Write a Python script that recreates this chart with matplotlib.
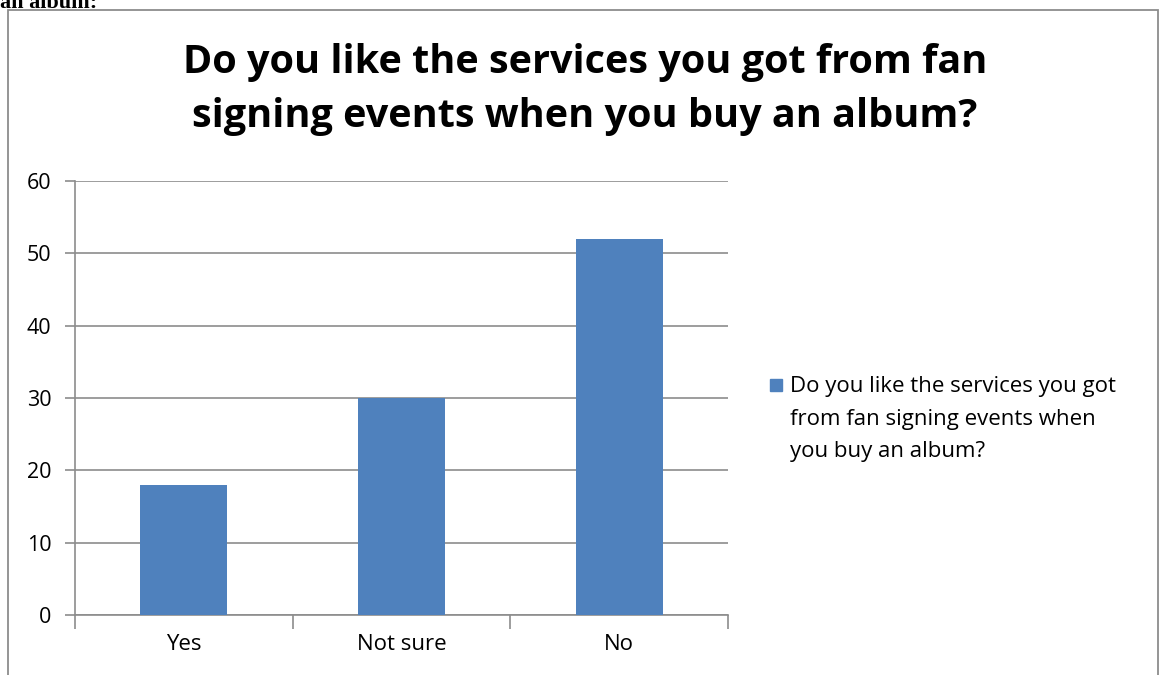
import numpy as np
import matplotlib.pyplot as plt
from matplotlib.patches import Rectangle

categories = ["Yes", "Not sure", "No"]
values = [18, 30, 52]
series_name = "Do you like the services you got\nfrom fan signing events when\nyou buy an album?"
title = "Do you like the services you got from fan\nsigning events when you buy an album?"

W, H = 1160, 675
fig = plt.figure(figsize=(W / 100, H / 100), dpi=100)
plt.rcParams['font.family'] = ['Open Sans', 'DejaVu Sans']

# chart frame (runs off the bottom of the page)
fig.patches.append(Rectangle((8 / W, -0.05), 1150 / W, (H - 10) / H + 0.05,
                             transform=fig.transFigure, fill=False,
                             edgecolor='#8c8c8c', linewidth=1.3))

# tail of the document text above the chart
fig.text(0.0, (H - 8) / H, "an album:", family='Liberation Serif', weight='bold',
         fontsize=16, ha='left', va='baseline')

ax = fig.add_axes([75 / W, (H - 615) / H, (728 - 75) / W, (615 - 181) / H])
x = np.arange(len(categories))
ax.bar(x, values, width=0.4, color='#4f81bd', zorder=3)

ax.set_xlim(-0.5, len(categories) - 0.5)
ax.set_ylim(0, 60)
ax.set_yticks(range(0, 61, 10))
ax.yaxis.grid(True, color='#8c8c8c', linewidth=1.2, zorder=0)
ax.tick_params(axis='y', length=7, color='#8c8c8c', width=1.2, labelsize=15.5, pad=10)

ax.set_xticks(x)
ax.set_xticklabels(categories, fontsize=16)
ax.tick_params(axis='x', length=0, pad=14)
ax.set_xticks(np.arange(-0.5, len(categories)), minor=True)
ax.tick_params(axis='x', which='minor', length=10, color='#8c8c8c', width=1.2)

for s in ['top', 'right']:
    ax.spines[s].set_visible(False)
for s in ['left', 'bottom']:
    ax.spines[s].set_color('#8c8c8c')
    ax.spines[s].set_linewidth(1.2)

fig.text(585 / W, (H - 90) / H, title, ha='center', va='center', fontsize=28.5,
         weight='bold', linespacing=1.5)

# legend
fig.patches.append(Rectangle((770 / W, (H - 391) / H), 12 / W, 12 / H,
                             transform=fig.transFigure, color='#4f81bd'))
fig.text(790 / W, (H - 376) / H, series_name, ha='left', va='top', fontsize=16,
         linespacing=1.72, transform=fig.transFigure)

fig.savefig("out.png", dpi=100)
